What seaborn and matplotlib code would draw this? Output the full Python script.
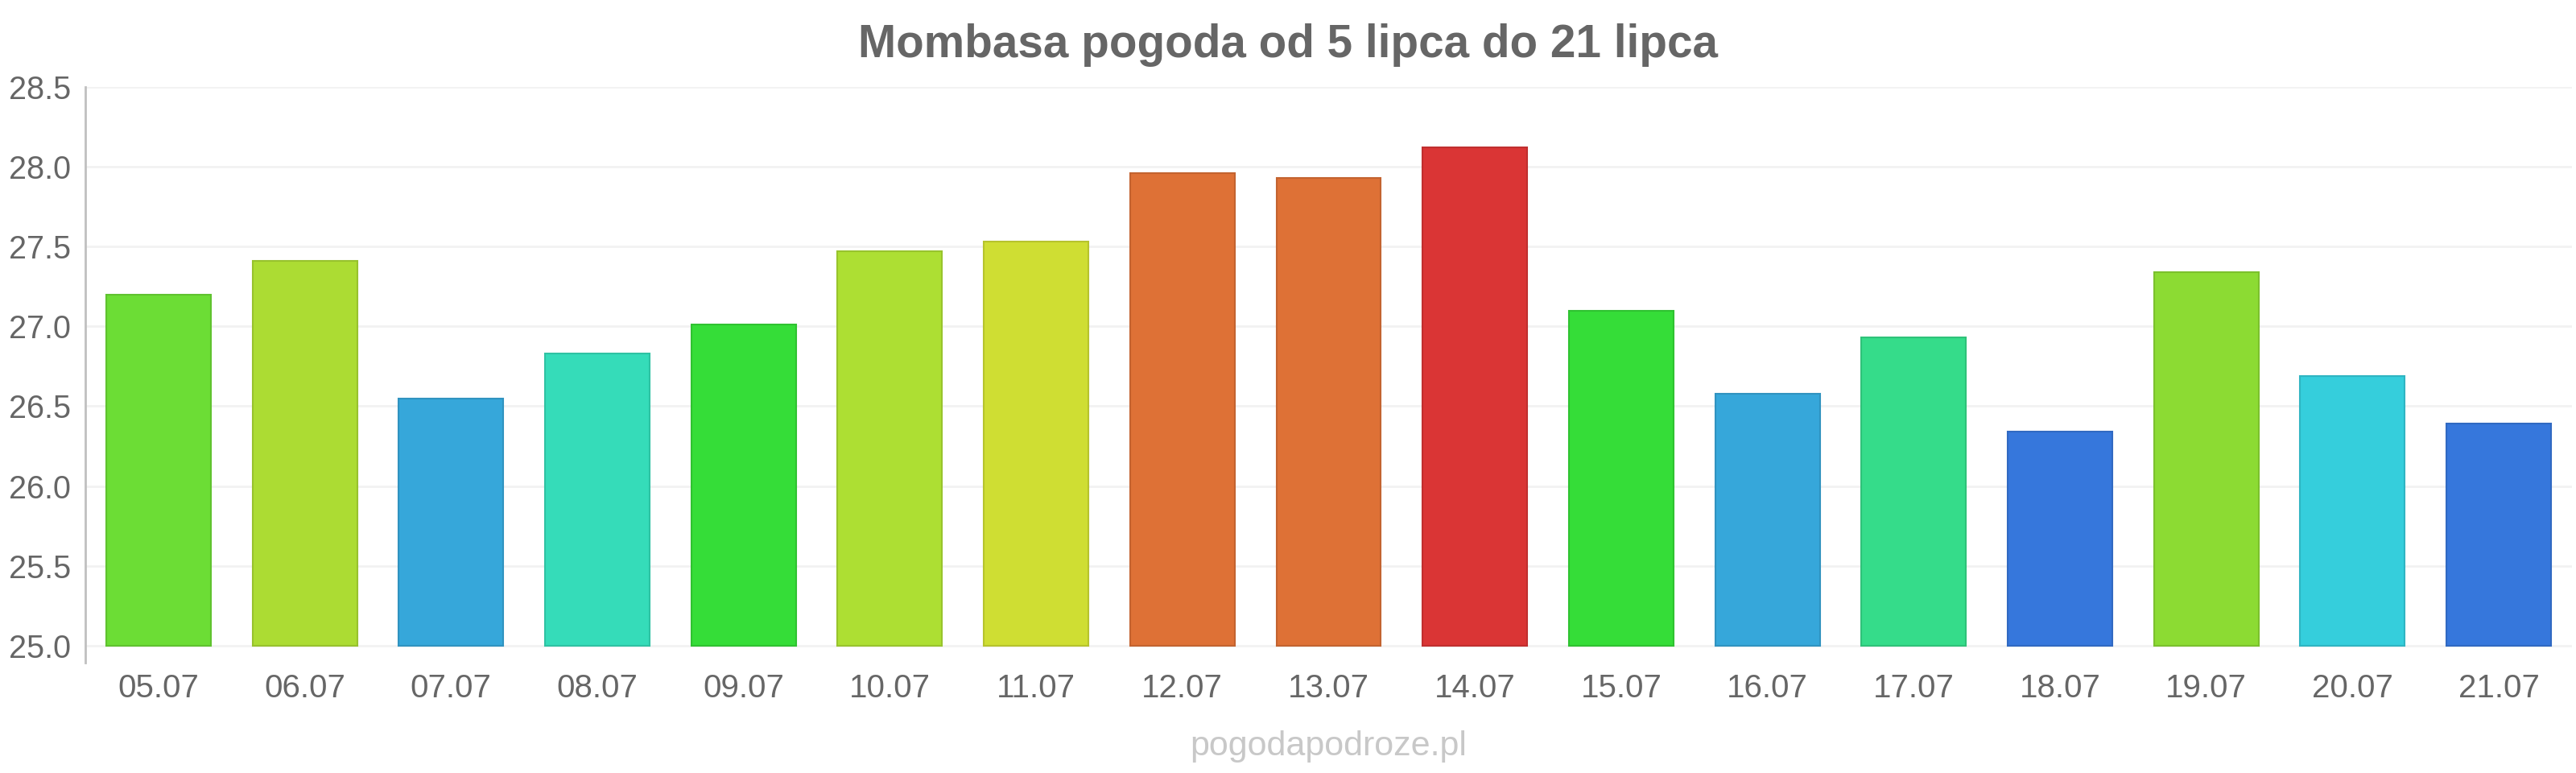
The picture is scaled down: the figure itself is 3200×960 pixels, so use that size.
import numpy as np
import pandas as pd
import seaborn as sns
import matplotlib
matplotlib.use('Agg')
import matplotlib.pyplot as plt
import matplotlib.colors as mcolors

# dane
dni = ['05.07', '06.07', '07.07', '08.07', '09.07', '10.07', '11.07', '12.07', '13.07',
       '14.07', '15.07', '16.07', '17.07', '18.07', '19.07', '20.07', '21.07']
temperatura = [27.2, 27.41, 26.55, 26.83, 27.01, 27.47, 27.53, 27.96, 27.93,
               28.12, 27.1, 26.58, 26.93, 26.34, 27.34, 26.69, 26.39]
kolory = ['#6cdd35', '#acdc33', '#36a7da', '#35dcb9', '#35dd38', '#addf33', '#cfde33',
          '#de7136', '#de7136', '#da3535', '#35dd38', '#36a7da', '#35dc8a', '#3677dc',
          '#8cdb33', '#35cedc', '#3677dc']

df = pd.DataFrame({'dzien': dni, 'temp': temperatura})

sns.set_style('white')
plt.rcParams['font.family'] = ['Liberation Sans', 'DejaVu Sans']

fig = plt.figure(figsize=(32, 9.6), dpi=100)
ax = fig.add_axes([106 / 3200, 1 - 823 / 960, (3195 - 106) / 3200, (823 - 108) / 960])

sns.barplot(data=df, x='dzien', y='temp', hue='dzien', palette=kolory, legend=False,
            width=0.715, saturation=1, ax=ax)

# słupki zaczynają się od 25.0
baza = 25.0
for p, c in zip(ax.patches, kolory):
    h = p.get_height()
    p.set_y(baza)
    p.set_height(h - baza)
    p.set_edgecolor(np.array(mcolors.to_rgb(c)) * 0.88)
    p.set_linewidth(1.5)

ax.set_ylim(24.893, 28.5)
ax.set_xlim(-0.5, len(dni) - 0.5)
ax.set_yticks(np.arange(25.0, 28.51, 0.5))
ax.set_yticklabels([f'{v:.1f}' for v in np.arange(25.0, 28.51, 0.5)])
ax.yaxis.grid(True, color='#f2f2f2', linewidth=2)
ax.set_axisbelow(True)
ax.set_xlabel('')
ax.set_ylabel('')

for s in ['top', 'right', 'bottom']:
    ax.spines[s].set_visible(False)
ax.spines['left'].set_color('#c0c0c0')
ax.spines['left'].set_linewidth(2)

ax.tick_params(axis='y', labelsize=28.5, colors='#666666', length=13, width=2,
               color='#f2f2f2', pad=0)
ax.tick_params(axis='x', labelsize=29, colors='#666666', length=0, pad=9)

fig.text(0.5, 1 - 56 / 960, 'Mombasa pogoda od 5 lipca do 21 lipca', ha='center', va='center',
         fontsize=40.8, fontweight='bold', color='#666666')
fig.text((106 + 3195) / 2 / 3200, 1 - 927 / 960, 'pogodapodroze.pl', ha='center', va='center',
         fontsize=31, color='#c8c8c8')

fig.savefig('out.png', dpi=100)
plt.close()
